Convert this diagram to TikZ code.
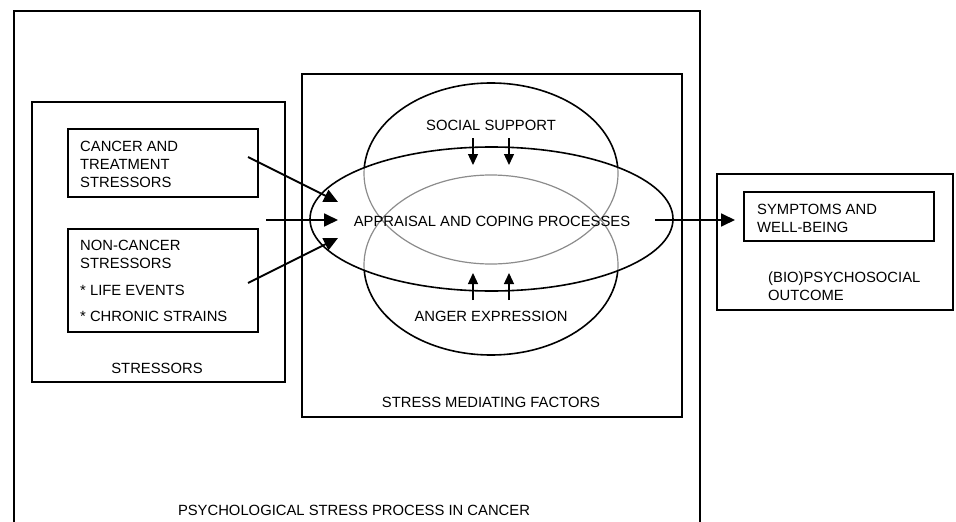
\documentclass[tikz,border=0pt]{standalone}
\usepackage{fontspec}
\setmainfont{Liberation Sans}
\usetikzlibrary{arrows.meta}
\tikzset{
	box/.style={draw,line width=1.4pt},
	ring/.style={line width=1.6pt},
	ringgray/.style={line width=1.2pt,draw=black!45},
	lbl/.style={font=\fontsize{14.8}{18}\selectfont,inner sep=0pt},
	lblock/.style={lbl,align=left,anchor=west},
	flow/.style={line width=1.8pt,-{Triangle[length=14pt,width=13pt]}},
	tick/.style={line width=1.3pt,-{Triangle[length=11pt,width=10pt]}},
	}

\begin{document}
\begin{tikzpicture}[x=1pt,y=-1pt]
\useasboundingbox (0,0) rectangle (956,522);
 \draw[box] (14,524) -- (14,11) -- (700,11) -- (700,524);
 \draw[box] (32,102) rectangle (285,382);
 \draw[box] (68,129) rectangle (258,197);
 \draw[box] (68,229) rectangle (258,332);
 \draw[box] (302,74) rectangle (682,417);
 \draw[box] (717,174) rectangle (953,310);
 \draw[box] (744,192) rectangle (934,241);

 \draw[ring] (491,173.5) ellipse (127 and 90.5);
 \draw[ring] (491,265) ellipse (127 and 90);
 \fill[white] (491.5,219) ellipse (181.5 and 72);
 \begin{scope}
 \clip (491.5,219) ellipse (181.5 and 72);
 \draw[ringgray] (491,173.5) ellipse (127 and 90.5);
 \draw[ringgray] (491,265) ellipse (127 and 90);
 \end{scope}
 \draw[ring] (491.5,219) ellipse (181.5 and 72);

\node (cancer) at (80,164) [lblock] {CANCER AND\\TREATMENT\\STRESSORS};
\node (noncancer) at (80,280.5) [lblock] {NON-CANCER\\STRESSORS\\[9pt]* LIFE EVENTS\\[8pt]* CHRONIC STRAINS};
\node (stressors) at (157,368) [lbl] {STRESSORS};
\node (social) at (491,125) [lbl] {SOCIAL SUPPORT};
\node (appraisal) at (492,221) [lbl] {APPRAISAL AND COPING PROCESSES};
\node (anger) at (491,316) [lbl] {ANGER EXPRESSION};
\node (mediating) at (491,402) [lbl] {STRESS MEDIATING FACTORS};
\node (symptoms) at (757,218) [lblock] {SYMPTOMS AND\\WELL-BEING};
\node (outcome) at (768,286) [lblock] {(BIO)PSYCHOSOCIAL\\OUTCOME};
\node (process) at (354,510) [lbl] {PSYCHOLOGICAL STRESS PROCESS IN CANCER};

\coordinate (in1) at (248,157); \coordinate (tip1) at (338,202);
\coordinate (in2) at (266,220); \coordinate (tip2) at (338,220);
\coordinate (in3) at (248,283); \coordinate (tip3) at (338,238);
\coordinate (out1) at (655,220); \coordinate (out2) at (735,220);
  \foreach \i in {1,2,3}
  \draw[flow] (in\i) -- (tip\i);
  \draw[flow] (out1) -- (out2);
  \foreach \x in {473,509} {
  \coordinate (ss\x) at (\x,138); \coordinate (se\x) at (\x,165);
  \coordinate (as\x) at (\x,300); \coordinate (ae\x) at (\x,273);
  \draw[tick] (ss\x) -- (se\x);
  \draw[tick] (as\x) -- (ae\x);
  }
\end{tikzpicture}
\end{document}
